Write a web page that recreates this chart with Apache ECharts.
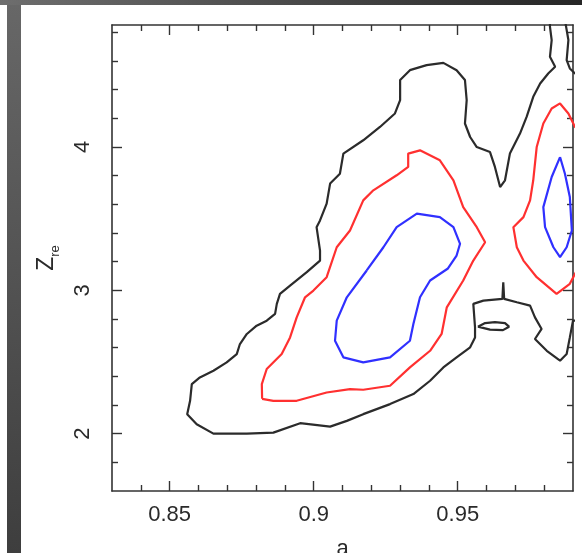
<!DOCTYPE html>
<html>
<head>
<meta charset="utf-8">
<script src="https://cdn.jsdelivr.net/npm/echarts@6/dist/echarts.min.js"></script>
<style>
  html, body { margin: 0; padding: 0; background: #ffffff; }
  #chart { width: 582px; height: 553px; }
</style>
</head>
<body>
<div id="chart"></div>
<script>
// Axis ranges and tick positions
const xRange = [0.83, 0.99];
const yRange = [1.6, 4.85];
const xTickLabels = [0.85, 0.9, 0.95];
const xMinorTicks = [0.84, 0.86, 0.87, 0.88, 0.89, 0.91, 0.92, 0.93, 0.94, 0.96, 0.97, 0.98];
const yTickLabels = [2, 3, 4];
const yMinorTicks = [1.8, 2.2, 2.4, 2.6, 2.8, 3.2, 3.4, 3.6, 3.8, 4.2, 4.4, 4.6, 4.8];

// Confidence contours in the (a, Z_re) plane, as [a, Z] vertices.
// Outer (black) level: main region, it leaves the frame at the top right.
const blackOuter = [
  [0.9950, 2.790], [0.9900, 2.788], [0.9889, 2.671], [0.9878, 2.555], [0.9855, 2.509],
  [0.9809, 2.578], [0.9768, 2.660], [0.9791, 2.730], [0.9768, 2.811], [0.9751, 2.893],
  [0.9705, 2.916], [0.9661, 2.940], [0.9658, 3.056], [0.9655, 2.940], [0.9589, 2.928],
  [0.9554, 2.905], [0.9560, 2.741], [0.9560, 2.671], [0.9543, 2.602], [0.9496, 2.532],
  [0.9450, 2.462], [0.9404, 2.369], [0.9346, 2.276], [0.9265, 2.206], [0.9172, 2.136],
  [0.9115, 2.089], [0.9057, 2.049], [0.8953, 2.073], [0.8860, 2.007], [0.8768, 2.000],
  [0.8652, 2.000], [0.8594, 2.066], [0.8561, 2.136], [0.8571, 2.229], [0.8577, 2.346],
  [0.8605, 2.392], [0.8652, 2.439], [0.8698, 2.497], [0.8733, 2.555], [0.8744, 2.625],
  [0.8768, 2.695], [0.8802, 2.753], [0.8837, 2.788], [0.8866, 2.835], [0.8872, 2.905],
  [0.8883, 2.975], [0.8918, 3.033], [0.8976, 3.126], [0.9022, 3.207], [0.9022, 3.277],
  [0.9010, 3.440], [0.9022, 3.487], [0.9045, 3.604], [0.9057, 3.744], [0.9091, 3.813],
  [0.9103, 3.953], [0.9172, 4.046], [0.9230, 4.139], [0.9282, 4.233], [0.9300, 4.326],
  [0.9300, 4.466], [0.9334, 4.535], [0.9392, 4.570], [0.9450, 4.586], [0.9496, 4.535],
  [0.9525, 4.466], [0.9531, 4.326], [0.9525, 4.163], [0.9543, 4.069], [0.9566, 3.999],
  [0.9612, 3.964], [0.9629, 3.860], [0.9647, 3.720], [0.9664, 3.767], [0.9681, 3.953],
  [0.9716, 4.093], [0.9739, 4.209], [0.9762, 4.349], [0.9786, 4.442], [0.9814, 4.512],
  [0.9838, 4.559], [0.9820, 4.628], [0.9826, 4.745], [0.9820, 4.838], [0.9820, 4.950],
  [0.9870, 4.950], [0.9872, 4.885], [0.9884, 4.745], [0.9878, 4.605], [0.9889, 4.547],
  [0.9907, 4.512], [0.9950, 4.510], [0.9950, 2.790]
];
// Outer level: small island near the saddle
const blackIsland = [
  [0.9570, 2.746], [0.9595, 2.771], [0.9629, 2.778], [0.9664, 2.771], [0.9678, 2.746],
  [0.9657, 2.722], [0.9612, 2.725], [0.9570, 2.746]
];
// Middle (red) level
const redLeft = [
  [0.8821, 2.243], [0.8860, 2.229], [0.8941, 2.229], [0.9045, 2.287], [0.9126, 2.311],
  [0.9172, 2.306], [0.9265, 2.334], [0.9334, 2.462], [0.9404, 2.578], [0.9444, 2.695],
  [0.9462, 2.881], [0.9519, 3.068], [0.9554, 3.207], [0.9595, 3.335], [0.9566, 3.440],
  [0.9519, 3.580], [0.9485, 3.767], [0.9438, 3.906], [0.9369, 3.976], [0.9328, 3.953],
  [0.9328, 3.860], [0.9288, 3.802], [0.9207, 3.697], [0.9172, 3.627], [0.9126, 3.417],
  [0.9080, 3.300], [0.9045, 3.091], [0.8999, 2.998], [0.8970, 2.951], [0.8941, 2.811],
  [0.8918, 2.671], [0.8889, 2.555], [0.8837, 2.451], [0.8820, 2.346], [0.8821, 2.243]
];
const redRight = [
  [0.9950, 4.100], [0.9907, 4.139], [0.9884, 4.233], [0.9855, 4.303], [0.9826, 4.268],
  [0.9797, 4.163], [0.9774, 3.999], [0.9762, 3.767], [0.9751, 3.627], [0.9728, 3.510],
  [0.9693, 3.440], [0.9705, 3.300], [0.9728, 3.207], [0.9774, 3.091], [0.9843, 2.975],
  [0.9889, 3.045], [0.9913, 3.138], [0.9950, 3.160]
];
// Inner (blue) level
const blueLeft = [
  [0.9184, 3.138], [0.9242, 3.300], [0.9288, 3.440], [0.9358, 3.534], [0.9438, 3.510],
  [0.9485, 3.440], [0.9508, 3.324], [0.9496, 3.242], [0.9466, 3.152], [0.9404, 3.068],
  [0.9369, 2.951], [0.9346, 2.765], [0.9334, 2.648], [0.9265, 2.532], [0.9172, 2.497],
  [0.9103, 2.532], [0.9074, 2.648], [0.9080, 2.788], [0.9115, 2.951], [0.9184, 3.138]
];
const blueRight = [
  [0.9855, 3.929], [0.9826, 3.790], [0.9797, 3.580], [0.9803, 3.440], [0.9832, 3.300],
  [0.9855, 3.231], [0.9878, 3.300], [0.9896, 3.417], [0.9889, 3.650], [0.9872, 3.813],
  [0.9855, 3.929]
];

const FONT = '"Liberation Sans", Arial, sans-serif';
const INK = '#2a2a2a';
const AXIS_LINE = { show: true, onZero: false, lineStyle: { color: '#333', width: 1.6 } };

function xAxisDef(position, major, showLine, showLabels) {
  return {
    type: 'value', position: position, min: xRange[0], max: xRange[1],
    splitLine: { show: false },
    axisLine: showLine ? AXIS_LINE : { show: false },
    axisTick: {
      inside: true, length: major ? 10 : 6,
      customValues: major ? xTickLabels : xMinorTicks,
      lineStyle: { color: '#333', width: 1.4 }
    },
    axisLabel: showLabels ? {
      customValues: xTickLabels, fontFamily: FONT, fontSize: 22, color: INK, margin: 13,
      formatter: function (v) { return String(v); }
    } : { show: false }
  };
}
function yAxisDef(position, major, showLine, showLabels) {
  return {
    type: 'value', position: position, min: yRange[0], max: yRange[1],
    splitLine: { show: false },
    axisLine: showLine ? AXIS_LINE : { show: false },
    axisTick: {
      inside: true, length: major ? 10 : 6,
      customValues: major ? yTickLabels : yMinorTicks,
      lineStyle: { color: '#333', width: 1.4 }
    },
    axisLabel: showLabels ? {
      customValues: yTickLabels, fontFamily: FONT, fontSize: 22, color: INK, margin: 18,
      rotate: 90,
      formatter: function (v) { return String(v); }
    } : { show: false }
  };
}

const xAxes = [
  xAxisDef('bottom', true, true, true),
  xAxisDef('bottom', false, false, false),
  xAxisDef('top', true, true, false),
  xAxisDef('top', false, false, false)
];
Object.assign(xAxes[0], {
  name: 'a', nameLocation: 'middle', nameGap: 47,
  nameTextStyle: { fontFamily: FONT, fontSize: 22, color: INK }
});
const yAxes = [
  yAxisDef('left', true, true, true),
  yAxisDef('left', false, false, false),
  yAxisDef('right', true, true, false),
  yAxisDef('right', false, false, false)
];
Object.assign(yAxes[0], {
  name: '{z|Z}{s|re}', nameLocation: 'middle', nameGap: 50, nameRotate: 90,
  nameTextStyle: {
    fontFamily: FONT, color: INK,
    rich: {
      z: { fontFamily: FONT, fontSize: 23, lineHeight: 22, color: INK },
      s: { fontFamily: FONT, fontSize: 13, lineHeight: 30, verticalAlign: 'bottom', color: INK }
    }
  }
});

function contour(data, color) {
  return {
    type: 'line', data: data, xAxisIndex: 0, yAxisIndex: 0,
    showSymbol: false, symbol: 'none', clip: true, smooth: false,
    lineStyle: { color: color, width: 2.2 },
    emphasis: { disabled: true }, silent: true
  };
}

const chart = echarts.init(document.getElementById('chart'), null, { renderer: 'canvas' });
chart.setOption({
  animation: false,
  backgroundColor: '#ffffff',
  grid: {
    left: 112, top: 25, right: 9, bottom: 62,
    containLabel: false, outerBoundsMode: 'none'
  },
  xAxis: xAxes,
  yAxis: yAxes,
  graphic: [
    {
      type: 'rect', left: 0, top: 0, z: 100,
      shape: { width: 582, height: 5 },
      style: { fill: new echarts.graphic.LinearGradient(0, 0, 1, 0, [
        { offset: 0, color: '#6e6e6e' }, { offset: 1, color: '#262626' }
      ]) }
    },
    {
      type: 'rect', left: 7, top: 5, z: 100,
      shape: { width: 14, height: 548 },
      style: { fill: new echarts.graphic.LinearGradient(0, 0, 0, 1, [
        { offset: 0, color: '#676767' }, { offset: 1, color: '#3e3e3e' }
      ]) }
    }
  ],
  series: [
    contour(blackOuter, '#2b2b2b'),
    contour(blackIsland, '#2b2b2b'),
    contour(redLeft, '#ff3030'),
    contour(redRight, '#ff3030'),
    contour(blueLeft, '#3030ff'),
    contour(blueRight, '#3030ff')
  ]
});
</script>
</body>
</html>
